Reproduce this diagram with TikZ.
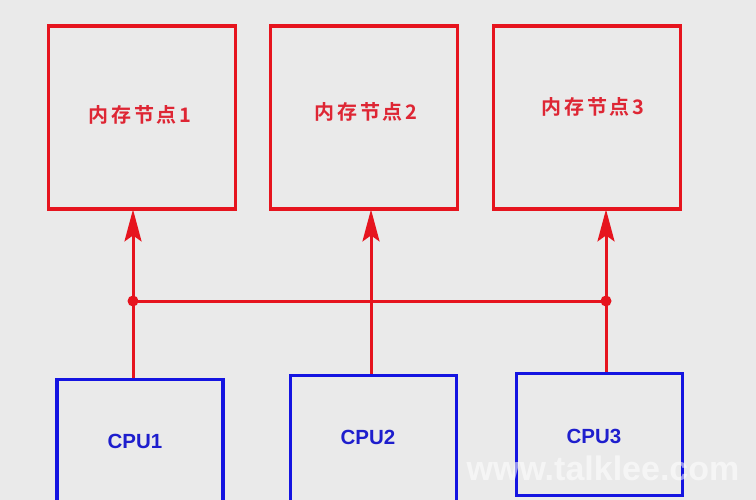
\documentclass[tikz,border=0pt]{standalone}
\usepackage{fontspec}
\newfontfamily\cjk[LetterSpace=14]{Noto Sans CJK SC Bold}
\newfontfamily\latinb{Liberation Sans Bold}
\usetikzlibrary{arrows.meta}
\definecolor{bg}{RGB}{234,234,234}
\definecolor{memred}{RGB}{230,20,30}
\definecolor{memtext}{RGB}{222,38,52}
\definecolor{cpublue}{RGB}{20,20,225}
\definecolor{cputext}{RGB}{30,30,205}
\tikzset{
  membox/.style={draw=memred, line width=3.8pt, minimum width=187pt, minimum height=183pt, inner sep=0pt},
  cpubox/.style={draw=cpublue, line width=3.8pt, minimum width=166pt, inner sep=0pt},
  memlabel/.style={text=memtext, font=\cjk\fontsize{20}{24}\selectfont},
  cpulabel/.style={text=cputext, font=\latinb\fontsize{20.5}{24}\selectfont},
  bus/.style={draw=memred, line width=3pt},
  busarrow/.style={bus, -{Stealth[length=32pt, width=17pt, inset=6pt]}},
  junction/.style={circle, fill=memred, inner sep=0pt, minimum size=11pt}
}
\begin{document}
\begin{tikzpicture}[x=1pt,y=-1pt]
\fill[bg] (0,0) rectangle (756,500);
\useasboundingbox (0,0) rectangle (756,500);
\clip (0,0) rectangle (756,500);
% memory boxes
\node[membox] (mem1) at (142,117.5) {};
\node[membox] (mem2) at (364,117.5) {};
\node[membox] (mem3) at (587,117.5) {};
\node[memlabel] (t1) at (140,115) {内存节点1};
\node[memlabel] (t2) at (366,112) {内存节点2};
\node[memlabel] (t3) at (593,107) {内存节点3};
% cpu boxes
\node[cpubox, minimum height=160pt] (cpu1) at (140,459.5) {};
\node[cpubox, minimum height=160pt] (cpu2) at (373.5,455.5) {};
\node[cpubox, minimum height=122pt] (cpu3) at (599.5,434.5) {};
\node[cpulabel] (c1) at (135,441) {CPU1};
\node[cpulabel] (c2) at (368,437) {CPU2};
\node[cpulabel] (c3) at (594,436) {CPU3};
% junctions
\coordinate (j1) at (133,301);
\coordinate (j2) at (371,301);
\coordinate (j3) at (606,301);
% connectors
\draw[bus] (j1) -- (j3);
\draw[busarrow] (cpu1.north -| j1) -- ([yshift=1.5pt]mem1.south -| j1);
\draw[busarrow] (cpu2.north -| j2) -- ([yshift=1.5pt]mem2.south -| j2);
\draw[busarrow] (cpu3.north -| j3) -- ([yshift=1.5pt]mem3.south -| j3);
\node[junction] (d1) at (j1) {};
\node[junction] (d3) at (j3) {};
% watermark
\node[text=white, opacity=0.55, font=\latinb\fontsize{34}{40}\selectfont] (wm) at (603,468) {www.talklee.com};
\end{tikzpicture}
\end{document}
